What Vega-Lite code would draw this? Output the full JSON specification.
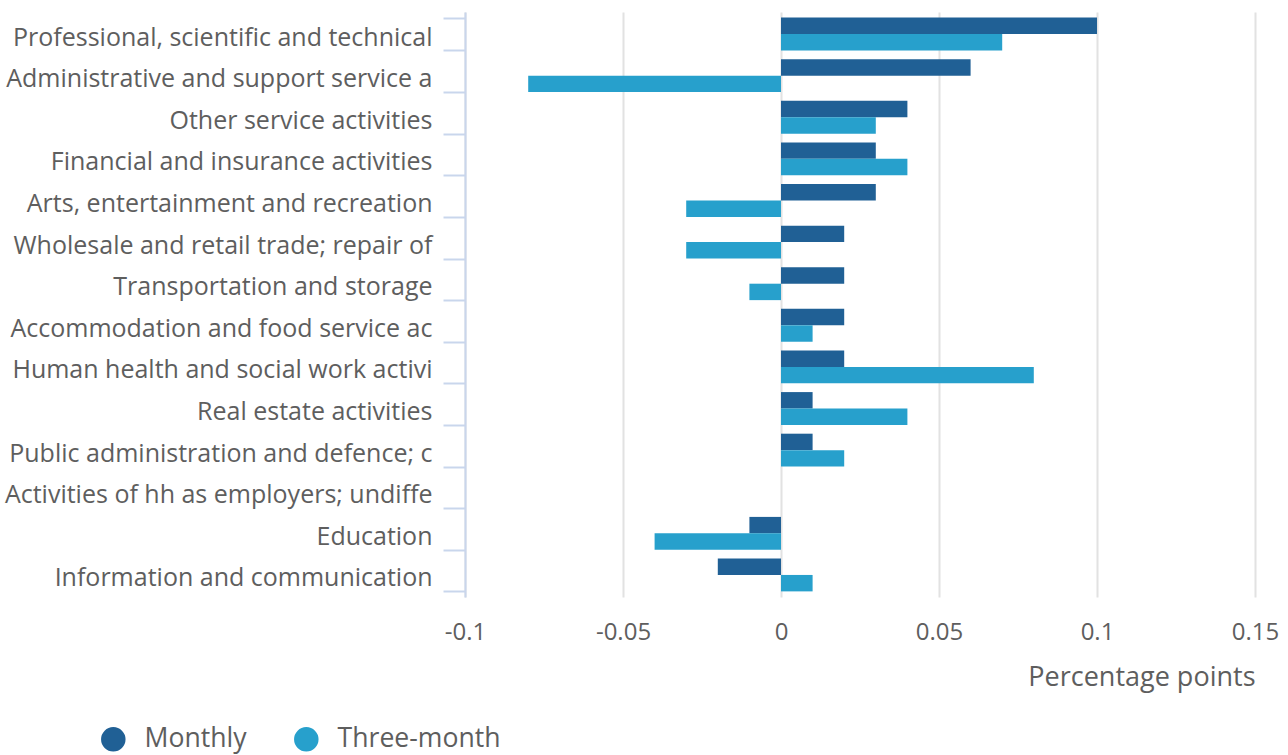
{
  "$schema": "https://vega.github.io/schema/vega-lite/v6.json",
  "width": 790,
  "height": 585,
  "autosize": {"type": "none"},
  "padding": {"left": 465, "top": 12, "right": 33, "bottom": 158},
  "background": "white",
  "data": {
    "values": [
      {"industry": "Professional, scientific and technical activities", "series": "Monthly", "value": 0.10},
      {"industry": "Professional, scientific and technical activities", "series": "Three-month", "value": 0.07},
      {"industry": "Administrative and support service activities", "series": "Monthly", "value": 0.06},
      {"industry": "Administrative and support service activities", "series": "Three-month", "value": -0.08},
      {"industry": "Other service activities", "series": "Monthly", "value": 0.04},
      {"industry": "Other service activities", "series": "Three-month", "value": 0.03},
      {"industry": "Financial and insurance activities", "series": "Monthly", "value": 0.03},
      {"industry": "Financial and insurance activities", "series": "Three-month", "value": 0.04},
      {"industry": "Arts, entertainment and recreation", "series": "Monthly", "value": 0.03},
      {"industry": "Arts, entertainment and recreation", "series": "Three-month", "value": -0.03},
      {"industry": "Wholesale and retail trade; repair of motor vehicles and motorcycles", "series": "Monthly", "value": 0.02},
      {"industry": "Wholesale and retail trade; repair of motor vehicles and motorcycles", "series": "Three-month", "value": -0.03},
      {"industry": "Transportation and storage", "series": "Monthly", "value": 0.02},
      {"industry": "Transportation and storage", "series": "Three-month", "value": -0.01},
      {"industry": "Accommodation and food service activities", "series": "Monthly", "value": 0.02},
      {"industry": "Accommodation and food service activities", "series": "Three-month", "value": 0.01},
      {"industry": "Human health and social work activities", "series": "Monthly", "value": 0.02},
      {"industry": "Human health and social work activities", "series": "Three-month", "value": 0.08},
      {"industry": "Real estate activities", "series": "Monthly", "value": 0.01},
      {"industry": "Real estate activities", "series": "Three-month", "value": 0.04},
      {"industry": "Public administration and defence; compulsory social security", "series": "Monthly", "value": 0.01},
      {"industry": "Public administration and defence; compulsory social security", "series": "Three-month", "value": 0.02},
      {"industry": "Activities of hh as employers; undifferentiated goods and services", "series": "Monthly", "value": 0},
      {"industry": "Activities of hh as employers; undifferentiated goods and services", "series": "Three-month", "value": 0},
      {"industry": "Education", "series": "Monthly", "value": -0.01},
      {"industry": "Education", "series": "Three-month", "value": -0.04},
      {"industry": "Information and communication", "series": "Monthly", "value": -0.02},
      {"industry": "Information and communication", "series": "Three-month", "value": 0.01}
    ]
  },
  "mark": {"type": "bar"},
  "encoding": {
    "y": {
      "field": "industry",
      "type": "nominal",
      "sort": null,
      "scale": {"paddingInner": 0.21, "paddingOuter": 0.135},
      "axis": {
        "title": null,
        "tickBand": "extent",
        "tickSize": 22,
        "tickWidth": 2,
        "tickColor": "#c9d6ec",
        "domainColor": "#c9d6ec",
        "domainWidth": 2,
        "labelPadding": 11,
        "labelOffset": 3,
        "labelLimit": 600,
        "labelFont": "Open Sans",
        "labelFontSize": 25,
        "labelColor": "#5e5e5e",
        "grid": false,
        "labelExpr": "datum.label == 'Professional, scientific and technical activities' ? 'Professional, scientific and technical' : datum.label == 'Administrative and support service activities' ? 'Administrative and support service a' : datum.label == 'Wholesale and retail trade; repair of motor vehicles and motorcycles' ? 'Wholesale and retail trade; repair of' : datum.label == 'Accommodation and food service activities' ? 'Accommodation and food service ac' : datum.label == 'Human health and social work activities' ? 'Human health and social work activi' : datum.label == 'Public administration and defence; compulsory social security' ? 'Public administration and defence; c' : datum.label == 'Activities of hh as employers; undifferentiated goods and services' ? 'Activities of hh as employers; undiffe' : datum.label"
      }
    },
    "yOffset": {"field": "series", "type": "nominal", "scale": {"paddingInner": 0, "paddingOuter": 0}},
    "x": {
      "field": "value",
      "type": "quantitative",
      "scale": {"domain": [-0.1, 0.15], "nice": false, "zero": false},
      "axis": {
        "values": [-0.1, -0.05, 0, 0.05, 0.1, 0.15],
        "labelExpr": "'' + datum.value",
        "domain": false,
        "ticks": false,
        "grid": true,
        "gridColor": "#e2e2e2",
        "gridWidth": 2,
        "labelFont": "Open Sans",
        "labelFontSize": 24,
        "labelColor": "#5e5e5e",
        "labelPadding": 23,
        "labelFlush": false,
        "title": "Percentage points",
        "titleFont": "Open Sans",
        "titleFontSize": 27,
        "titleFontWeight": "normal",
        "titleColor": "#5e5e5e",
        "titleAnchor": "end",
        "titlePadding": 20
      }
    },
    "color": {
      "field": "series",
      "type": "nominal",
      "scale": {"domain": ["Monthly", "Three-month"], "range": ["#206095", "#27a0cc"]},
      "legend": {
        "title": null,
        "orient": "none",
        "direction": "horizontal",
        "legendX": -365,
        "legendY": 714,
        "symbolType": "circle",
        "symbolSize": 600,
        "symbolStrokeWidth": 0,
        "symbolOpacity": 1,
        "labelFont": "Open Sans",
        "labelFontSize": 26.6,
        "labelColor": "#5e5e5e",
        "labelOffset": 18,
        "labelLimit": 300,
        "columnPadding": 46
      }
    }
  },
  "config": {
    "view": {"stroke": null}
  }
}
